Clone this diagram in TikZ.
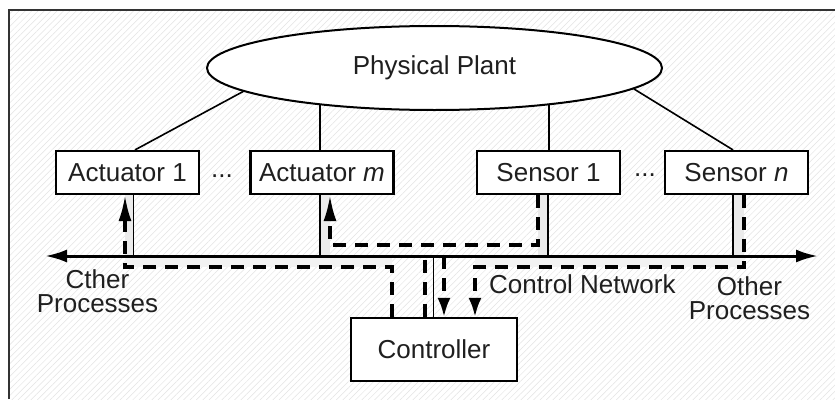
\documentclass[tikz,border=0pt]{standalone}
\usepackage{fontspec}
\setmainfont{Liberation Sans}
\usetikzlibrary{arrows.meta,shapes.geometric,calc,patterns.meta}
\pgfdeclarelayer{back}
\pgfdeclarelayer{bg}
\pgfsetlayers{back,bg,main}
\begin{document}
\begin{tikzpicture}[x=1pt,y=-1pt,
  every node/.style={font=\fontsize{26}{24.5}\selectfont, text=black!88},
  box/.style={draw=black, line width=2.2pt, fill=white, minimum width=143pt, minimum height=43pt, inner sep=0pt},
  link/.style={line width=1.6pt},
  sig/.style={line width=3.2pt, dash pattern=on 13pt off 9pt},
  tipup/.style={-{Latex[length=26pt,width=13pt]}},
  tipdown/.style={-{Latex[length=19pt,width=13pt]}},
  busline/.style={line width=3pt, {Latex[length=22pt,width=13pt]}-{Latex[length=22pt,width=13pt]}},
  shade/.style={fill=black!8, draw=none}
]
\useasboundingbox (0,0) rectangle (835,399);

% nodes
\node[ellipse, draw, line width=2pt, fill=white, minimum width=455pt, minimum height=84pt, inner sep=0pt] (plant) at (434.5,68) {Physical Plant};
\node[box] (a1) at (127.5,172.5) {Actuator 1};
\node[box] (am) at (322,172.5) {Actuator \textit{m}};
\node[box] (s1) at (548.5,172.5) {Sensor 1};
\node[box] (sn) at (736.5,172.5) {Sensor \textit{n}};
\node[box, minimum width=166pt, minimum height=63pt] (ctrl) at (434,349.5) {Controller};
\node (d1) at (222,176) {...};
\node (d2) at (645,175) {...};
\node[anchor=north, align=center, inner sep=0pt] (op1) at (97.5,269) {Cther\\Processes};
\node[anchor=north, align=center, inner sep=0pt] (op2) at (749.5,276) {Other\\Processes};
\node[anchor=base west, inner sep=0pt] (cn) at (489,293) {Control Network};

\coordinate (busL) at (45,256);
\coordinate (busR) at (818,256);
\coordinate (hi) at (0,245);
\coordinate (lo) at (0,267);

\begin{pgfonlayer}{back}
  \fill[white] (0,0) rectangle (835,399);
  \fill[pattern={Lines[angle=45,distance=4.5pt,line width=0.5pt]}, pattern color=black!11] (9,10) rectangle (835,399);
  \draw[line width=2pt, black!80] (9,399) -- (9,10) -- (835,10);
  % light shading strips
  \fill[shade] ([xshift=-2.5pt]a1.south) rectangle ([xshift=6pt]a1.south |- busL);
  \fill[shade] ([xshift=-2pt]am.south) rectangle ([xshift=8pt]am.south |- busL);
  \fill[shade] ([xshift=-10.5pt]s1.south) rectangle ([xshift=-0.5pt]s1.south |- busL);
  \fill[shade] ([xshift=-3.5pt]sn.south) rectangle ([xshift=7.5pt]sn.south |- busL);
  \fill[black!5] ([xshift=-2.5pt]a1.south |- busL) rectangle ([xshift=-42pt]ctrl.north |- lo);
  \fill[black!5] ([xshift=41pt]ctrl.north |- busL) rectangle ([xshift=7.5pt]sn.south |- lo);
\end{pgfonlayer}

\begin{pgfonlayer}{bg}
  % plant to devices
  \draw[link] (plant.187) -- ([xshift=7.5pt]a1.north);
  \draw[link] ([xshift=-2pt]am.north) -- ([xshift=-2pt]am.north |- plant.center);
  \draw[link] ([xshift=0.5pt]s1.north) -- ([xshift=0.5pt]s1.north |- plant.center);
  \draw[link] (plant.-6) -- ([xshift=-3.5pt]sn.north);
  % bus
  \draw[busline] (busL) -- (busR);
  % solid taps
  \draw[link] ([xshift=6pt]a1.south) -- ([xshift=6pt]a1.south |- busL);
  \draw[link] ([xshift=-2pt]am.south) -- ([xshift=-2pt]am.south |- busL);
  \draw[link] ([xshift=-0.5pt]s1.south) -- ([xshift=-0.5pt]s1.south |- busL);
  \draw[link] ([xshift=-3.5pt]sn.south) -- ([xshift=-3.5pt]sn.south |- busL);
  \draw[link] ([xshift=-0.5pt]ctrl.north) -- ([xshift=-0.5pt]ctrl.north |- busL);
  % dashed signal paths
  \draw[sig, tipup] ([xshift=-42pt]ctrl.north) -- ([xshift=-42pt]ctrl.north |- lo) -| ([xshift=-2.5pt]a1.south);
  \draw[sig, tipup] ([xshift=-10.5pt]s1.south) -- ([xshift=-10.5pt]s1.south |- hi) -| ([xshift=8pt]am.south);
  \draw[sig, tipdown] ([xshift=7.5pt]sn.south) -- ([xshift=7.5pt]sn.south |- lo) -| ([xshift=41pt]ctrl.north);
  \draw[sig] ([xshift=-9pt]ctrl.north) -- ([xshift=-9pt]ctrl.north |- busL);
  \draw[sig, tipdown] ([xshift=10pt]ctrl.north |- busL) -- ([xshift=10pt]ctrl.north);
\end{pgfonlayer}
\end{tikzpicture}
\end{document}
